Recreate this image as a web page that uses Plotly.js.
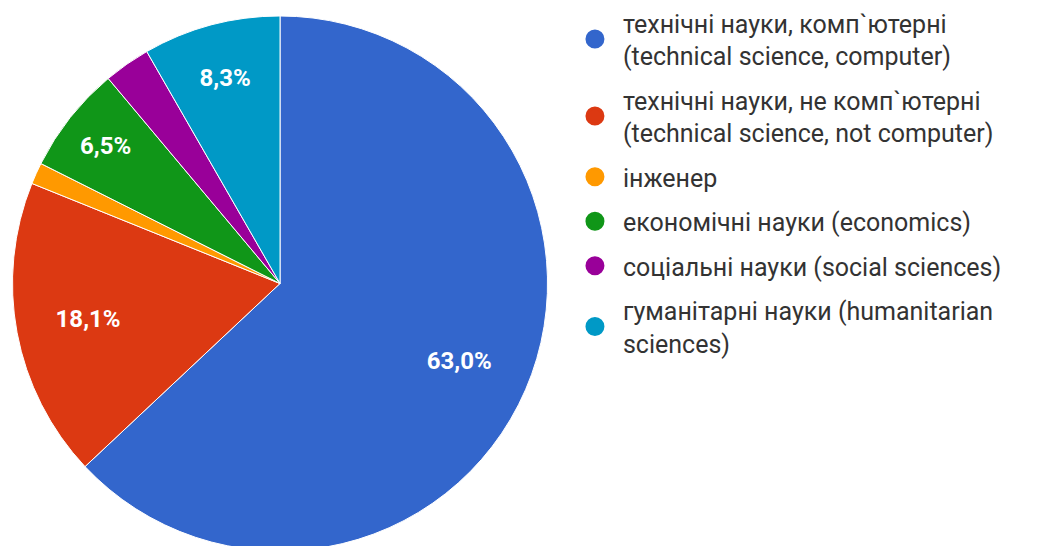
<!DOCTYPE html>
<html>
<head>
<meta charset="utf-8">
<script src="https://cdn.plot.ly/plotly-3.0.1.min.js"></script>
<style>
  html, body { margin: 0; padding: 0; background: #ffffff; overflow: hidden; }
  #chart { width: 1047px; height: 556px; }
</style>
</head>
<body>
<div id="chart"></div>
<script>
// Categories (legend labels, with line breaks as in the reference)
const categories = [
  "технічні науки, комп`ютерні<br>(technical science, computer)",
  "технічні науки, не комп`ютерні<br>(technical science, not computer)",
  "інженер",
  "економічні науки (economics)",
  "соціальні науки (social sciences)",
  "гуманітарні науки (humanitarian<br>sciences)"
];
// Shares in percent
const shares = [63.0, 18.1, 1.3, 6.5, 2.8, 8.3];
const colors = ["#3366cc", "#dc3912", "#ff9900", "#109618", "#990099", "#0099c6"];

const total = shares.reduce((a, b) => a + b, 0);
const sliceText = shares.map(v => (v / total >= 0.05 ? "%{percent:.1%}" : ""));

const pieDomain = { x: [0.0115, 0.5234], y: [0.009, 0.973] };

// Coloured slices
const pie = {
  type: "pie",
  labels: categories,
  values: shares,
  sort: false,
  direction: "clockwise",
  rotation: 0,
  marker: { colors: colors, line: { color: "#ffffff", width: 1 } },
  textinfo: "none",
  hoverinfo: "label+percent",
  showlegend: false,
  domain: pieDomain
};

// Same data as a transparent ring, used only to place the percentage labels
const labelRing = {
  type: "pie",
  labels: categories,
  values: shares,
  sort: false,
  direction: "clockwise",
  rotation: 0,
  hole: 0.46,
  marker: { colors: colors.map(() => "rgba(0,0,0,0)"), line: { width: 0 } },
  texttemplate: sliceText,
  textposition: "inside",
  insidetextorientation: "horizontal",
  textfont: { family: "Roboto, Arial, sans-serif", size: 24, color: "#ffffff", weight: "bold" },
  hoverinfo: "skip",
  showlegend: false,
  domain: pieDomain
};

// Legend entries with round markers, one per category
const legendTraces = categories.map((c, i) => ({
  type: "scatter",
  mode: "markers",
  x: [null],
  y: [null],
  name: c,
  legendgroup: "g" + i,
  marker: { color: colors[i], size: 16, symbol: "circle", line: { color: colors[i], width: 3 } },
  hoverinfo: "skip"
}));

const layout = {
  width: 1047,
  height: 556,
  margin: { l: 0, r: 0, t: 0, b: 0 },
  paper_bgcolor: "#ffffff",
  plot_bgcolor: "#ffffff",
  separators: ", ",
  xaxis: { visible: false },
  yaxis: { visible: false },
  showlegend: true,
  legend: {
    x: 0.5415,
    xanchor: "left",
    y: 1.002,
    yanchor: "top",
    maxheight: 540,
    traceorder: "grouped",
    tracegroupgap: 9,
    itemwidth: 46,
    font: { family: "Roboto, Arial, sans-serif", size: 25, color: "#333333" },
    bgcolor: "rgba(0,0,0,0)"
  }
};

Plotly.newPlot("chart", [pie, labelRing].concat(legendTraces), layout, { displayModeBar: false, staticPlot: true });
</script>
</body>
</html>
